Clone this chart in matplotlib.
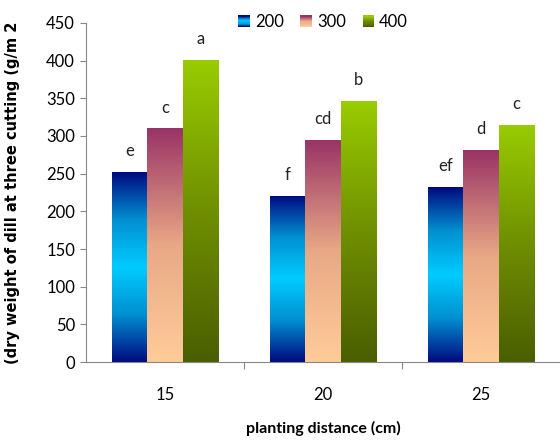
import numpy as np
import matplotlib
matplotlib.use("Agg")
import matplotlib.pyplot as plt
from matplotlib.colors import LinearSegmentedColormap
from matplotlib.patches import Rectangle
from matplotlib.legend_handler import HandlerBase

# data
distances = ["15", "20", "25"]
series_names = ["200", "300", "400"]
vals_200 = [252, 221, 232]
vals_300 = [310, 295, 281]
vals_400 = [401, 346, 315]
letters_200 = ["e", "f", "ef"]
letters_300 = ["c", "cd", "d"]
letters_400 = ["a", "b", "c"]

# bottom -> top gradient colours per series
grads = [
    ["#000a80", "#0090d0", "#00ccff", "#0090d0", "#000a80"],
    ["#ffcc99", "#e8a886", "#993366"],
    ["#4a5e00", "#6f8f00", "#99cc00"],
]
cmaps = [LinearSegmentedColormap.from_list("g%d" % i, g) for i, g in enumerate(grads)]

plt.rcParams['font.family'] = ['Lato', 'DejaVu Sans']

fig = plt.figure(figsize=(5.6, 4.4), dpi=100)
ax = fig.add_axes([0.154, 0.177, 0.846, 0.771])

x = np.arange(len(distances))
w = 0.225
all_vals = [vals_200, vals_300, vals_400]
all_letters = [letters_200, letters_300, letters_400]
grad_img = np.linspace(0, 1, 256).reshape(-1, 1)

for i, (vals, lets) in enumerate(zip(all_vals, all_letters)):
    bars = ax.bar(x + (i - 1) * w, vals, w, facecolor="none", edgecolor="none")
    for b, v, t in zip(bars, vals, lets):
        x0 = b.get_x()
        im = ax.imshow(grad_img, cmap=cmaps[i], origin="lower", aspect="auto",
                       extent=[x0, x0 + w, 0, v], zorder=2)
        im.set_clip_path(b)
        ax.text(x0 + w / 2, v + 17, t, ha="center", va="bottom", fontsize=12,
                color="#222222")

ax.set_xlim(-0.5, 2.5)
ax.set_ylim(0, 450)
ax.set_yticks(np.arange(0, 451, 50))
ax.tick_params(axis="y", labelsize=12, length=4, color="#888888", pad=4)
ax.set_xticks([0.5, 1.5])
ax.set_xticklabels([])
ax.tick_params(axis="x", length=5, color="#888888")
ax.set_xticks(x, minor=True)
ax.set_xticklabels(distances, minor=True)
ax.tick_params(axis="x", which="minor", length=0, labelsize=12, pad=18)

for s in ["top", "right"]:
    ax.spines[s].set_visible(False)
for s in ["left", "bottom"]:
    ax.spines[s].set_color("#888888")

ax.set_xlabel("planting distance (cm)", fontsize=11.5, fontweight="bold", labelpad=13)
ax.set_ylabel("(dry weight of dill at three cutting (g/m 2", fontsize=10.5,
              fontweight="bold", family=["DejaVu Sans"])
ax.yaxis.set_label_coords(-0.14, 0.5)


class GradHandler(HandlerBase):
    def __init__(self, cmap):
        super().__init__()
        self.cmap = cmap

    def create_artists(self, legend, orig_handle, xd, yd, width, height, fontsize, trans):
        side = height * 1.0
        n = 10
        arts = []
        for k in range(n):
            r = Rectangle((xd + width - side, yd + side * k / n), side, side / n + 0.3,
                          facecolor=self.cmap(k / (n - 1)), edgecolor="none",
                          transform=trans)
            arts.append(r)
        return arts


handles = [Rectangle((0, 0), 1, 1) for _ in series_names]
ax.legend(handles, series_names, loc="upper center", bbox_to_anchor=(0.5, 1.07),
          ncol=3, frameon=False, fontsize=12, handlelength=0.7, handletextpad=0.3,
          columnspacing=1.0,
          handler_map={h: GradHandler(c) for h, c in zip(handles, cmaps)})

fig.savefig("out.png", dpi=100)
